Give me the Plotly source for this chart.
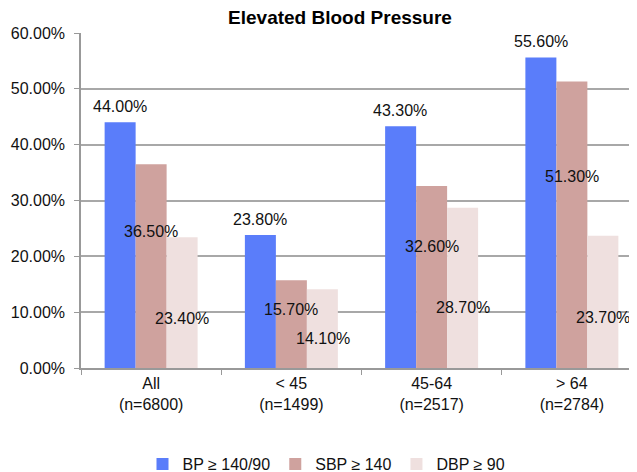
import plotly.graph_objects as go

# ---- data ----
categories = ["All", "< 45", "45-64", "> 64"]
sample_sizes = [6800, 1499, 2517, 2784]
series_names = ["BP ≥ 140/90", "SBP ≥ 140", "DBP ≥ 90"]
bp_values = [44.0, 23.8, 43.3, 55.6]
sbp_values = [36.5, 15.7, 32.6, 51.3]
dbp_values = [23.4, 14.1, 28.7, 23.7]
y_ticks = [0, 10, 20, 30, 40, 50, 60]

series_values = [bp_values, sbp_values, dbp_values]
colors = ["#5a7dfa", "#cfa29e", "#efe0df"]
# relative height (fraction of bar value) where each series' label sits
label_fraction = [1.0, 0.67, 0.38]
label_yshift = [16, 0, 0]

W, H = 637, 472
margin = dict(l=67, r=3, t=25, b=112)
bargap = 0.337


def esc(s):
    return s.replace("<", "&lt;").replace(">", "&gt;")


ticktext = [f"{esc(c)}<br>(n={n})" for c, n in zip(categories, sample_sizes)]

fig = go.Figure()
for name, vals, col in zip(series_names, series_values, colors):
    fig.add_trace(go.Bar(
        x=categories, y=vals, name=name,
        marker=dict(color=col, line=dict(width=0)),
        hoverinfo="x+y+name",
    ))

plot_w = W - margin["l"] - margin["r"]
cat_w = plot_w / len(categories)
bar_w = cat_w * (1 - bargap) / len(series_names)

annotations = []
for si, vals in enumerate(series_values):
    for ci, v in enumerate(vals):
        annotations.append(dict(
            x=categories[ci], y=v * label_fraction[si], xref="x", yref="y",
            text=f"{v:.2f}%", showarrow=False,
            xshift=(si - 1) * bar_w, yshift=label_yshift[si],
            xanchor="center", yanchor="middle",
            font=dict(size=16, color="#111111", family="Liberation Sans, Arial, sans-serif"),
        ))

fig.update_layout(
    width=W, height=H,
    margin=margin,
    paper_bgcolor="white", plot_bgcolor="white",
    font=dict(family="Liberation Sans, Arial, sans-serif", size=16, color="#111111"),
    title=dict(
        text="<b>Elevated Blood Pressure</b>",
        x=332 / W, xanchor="center", xref="container",
        y=1, yanchor="top", yref="container", pad=dict(t=3),
        font=dict(size=19, color="#000000", family="Liberation Sans, Arial, sans-serif"),
    ),
    barmode="group", bargap=bargap, bargroupgap=0,
    showlegend=True,
    legend=dict(
        orientation="h", xref="container", yref="container",
        x=0.5, xanchor="center", y=16 / H, yanchor="middle",
        font=dict(size=16), bgcolor="rgba(0,0,0,0)",
        itemclick=False,
    ),
    annotations=annotations,
)

fig.update_xaxes(
    type="category",
    tickmode="array", tickvals=categories, ticktext=ticktext,
    tickson="boundaries", ticks="outside", ticklen=5, tickcolor="#999999",
    showline=True, linecolor="#999999", linewidth=1.5,
    showgrid=False, tickfont=dict(size=16),
)
fig.update_yaxes(
    range=[0, 60], tickmode="array", tickvals=y_ticks,
    ticktext=[f"{t:.2f}%" for t in y_ticks],
    ticks="outside", ticklen=5, tickcolor="#999999",
    showline=True, linecolor="#999999", linewidth=1.5,
    showgrid=True, gridcolor="#a8a8a8", gridwidth=1.5,
    zeroline=False, tickfont=dict(size=16), ticklabelstandoff=6,
)

fig.write_html("out.html")
